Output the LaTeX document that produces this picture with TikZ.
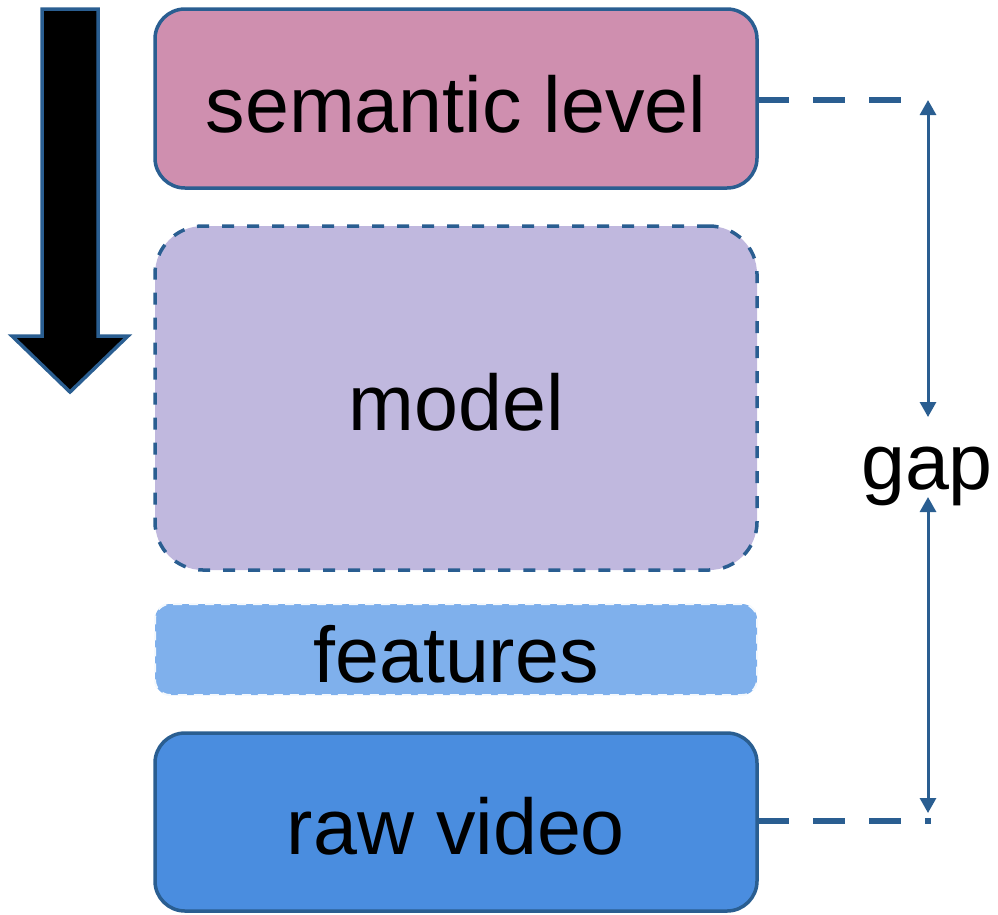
\documentclass[tikz,border=0pt]{standalone}
\usepackage{fontspec}
\setmainfont{Liberation Sans}
\usetikzlibrary{arrows.meta}

\definecolor{edgeblue}{HTML}{2A5E91}
\definecolor{semfill}{HTML}{CF8FAF}
\definecolor{modelfill}{HTML}{C0B8DE}
\definecolor{featfill}{HTML}{7FB0EC}
\definecolor{rawfill}{HTML}{4A8DDF}

\tikzset{
  layer/.style={draw=edgeblue, line width=3.5pt, minimum width=602pt, inner sep=0pt, outer sep=0pt},
  lbl/.style={font=\fontsize{79}{90}\selectfont, anchor=base, inner sep=0pt},
  guide/.style={draw=edgeblue, line width=5.5pt, dash pattern=on 32pt off 24pt},
  span/.style={draw=edgeblue, line width=3pt,
    {Triangle[width=16pt,length=15pt]}-{Triangle[width=16pt,length=15pt]}},
}

\begin{document}
\begin{tikzpicture}[x=1pt, y=-1pt]
  \useasboundingbox (0,0) rectangle (998,914);

  % downward direction arrow
  \filldraw[fill=black, draw=edgeblue, line width=3.5pt, line join=miter]
    (42,9) -- (98,9) -- (98,336) -- (128,336) -- (70,392) -- (12,336) -- (42,336) -- cycle;

  % layers
  \node[layer, fill=semfill, rounded corners=30pt, minimum height=179pt] (sem) at (456,98.5) {};
  \node[layer, fill=modelfill, rounded corners=48pt, minimum height=344pt,
        dash pattern=on 12pt off 13pt] (model) at (456,398) {};
  \node[layer, fill=featfill, draw=white!92!featfill, line width=2pt, rounded corners=15pt,
        minimum height=91pt, dash pattern=on 9pt off 7pt] (feat) at (456,649.5) {};
  \node[layer, fill=rawfill, rounded corners=30pt, minimum height=178pt] (raw) at (456,822) {};

  % layer labels
  \node[lbl] (semtxt) at (456,132) {semantic level};
  \node[lbl] (modeltxt) at (456,430) {model};
  \node[lbl] (feattxt) at (456,682) {features};
  \node[lbl] (rawtxt) at (456,854) {raw video};
  \node[lbl] (gap) at (927,489) {gap};

  % reference levels
  \coordinate (semend) at (905,100);
  \coordinate (rawend) at (931,821);
  \path[guide] (sem.east |- semend) -- (semend);
  \path[guide] (raw.east |- rawend) -- (rawend);

  % gap extent
  \coordinate (topA) at (928,100);
  \coordinate (topB) at (928,417);
  \coordinate (botA) at (928,497);
  \coordinate (botB) at (928,813);
  \path[span] (topA) -- (topB);
  \path[span] (botA) -- (botB);
\end{tikzpicture}
\end{document}
